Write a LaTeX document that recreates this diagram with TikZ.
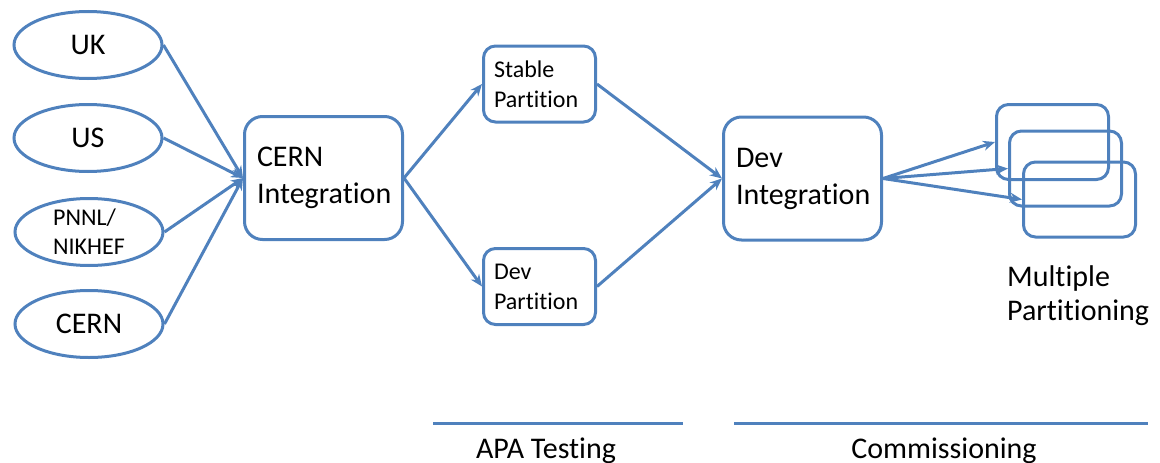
\documentclass[tikz,border=0pt]{standalone}
\usepackage{fontspec}
\setmainfont{Carlito}[Ligatures=NoCommon]
\usetikzlibrary{shapes.geometric,arrows.meta}
\definecolor{apablue}{HTML}{4F81BD}
\tikzset{site/.style={ellipse,draw=apablue,line width=3pt,minimum width=148pt,minimum height=67pt,inner sep=0pt,font=\fontsize{30}{36}\selectfont}}
\tikzset{stage/.style={rectangle,rounded corners=18pt,draw=apablue,line width=3pt,minimum height=123pt,text width=133pt,inner xsep=12.5pt,align=left,font=\fontsize{30}{37}\selectfont}}
\tikzset{part/.style={rectangle,rounded corners=12pt,draw=apablue,line width=3pt,minimum height=76pt,text width=91pt,inner xsep=10.5pt,align=left,font=\fontsize{24}{30}\selectfont}}
\tikzset{flow/.style={apablue,line width=3pt,-{Stealth[length=12pt,width=10pt]}}}
\tikzset{phase/.style={apablue,line width=3pt}}

\begin{document}
\begin{tikzpicture}[x=1pt,y=-1pt]
    \useasboundingbox (0,0) rectangle (1160,463);
    % sites
    \node[site] (uk) at (88,45) {UK};
    \node[site] (us) at (88,138) {US};
    \node[site,align=left,font=\fontsize{24}{29}\selectfont] (pnnl) at (89,232) {PNNL/\\NIKHEF};
    \node[site] (cern) at (89,324) {CERN};
    % integration chain
    \node[stage] (cernint) at (323.5,178) {CERN\\Integration};
    \node[part] (stable) at (539.5,84) {Stable\\Partition};
    \node[part] (devpart) at (539.5,286.5) {Dev\\Partition};
    \node[stage] (devint) at (802.5,178.5) {Dev\\Integration};
    \node[part,minimum height=75pt] (slota) at (1052.5,142) {};
    \node[part,minimum height=75pt] (slotb) at (1065.5,168.5) {};
    \node[part,minimum height=75pt] (slotc) at (1079.5,199.5) {};
    \node[anchor=west,align=left,inner sep=0pt,font=\fontsize{30}{34}\selectfont] (multi) at (1007,296) {Multiple\\Partitioning};
    \draw[flow] (uk.east) -- (cernint.west);
    \draw[flow] (us.east) -- (cernint.west);
    \draw[flow] (pnnl.east) -- (cernint.west);
    \draw[flow] (cern.east) -- (cernint.west);
    \draw[flow] (cernint.east) -- (stable.west);
    \draw[flow] (cernint.east) -- (devpart.west);
    \draw[flow] (stable.east) -- (devint.west);
    \draw[flow] (devpart.east) -- (devint.west);
    \draw[flow] (devint.east) -- (slota.west);
    \draw[flow] (devint.east) -- (slotb.west);
    \draw[flow] (devint.east) -- (slotc.west);
    % phases
    \coordinate (apaa) at (433,423);
    \coordinate (apab) at (683,423);
    \coordinate (coma) at (734,423);
    \coordinate (comb) at (1148,423);
    \draw[phase] (apaa) -- (apab);
    \draw[phase] (coma) -- (comb);
    \node[anchor=base,font=\fontsize{30}{36}\selectfont] (apa) at (546,458) {APA Testing};
    \node[anchor=base,font=\fontsize{30}{36}\selectfont] (comm) at (944,458) {Commissioning};
\end{tikzpicture}
\end{document}
